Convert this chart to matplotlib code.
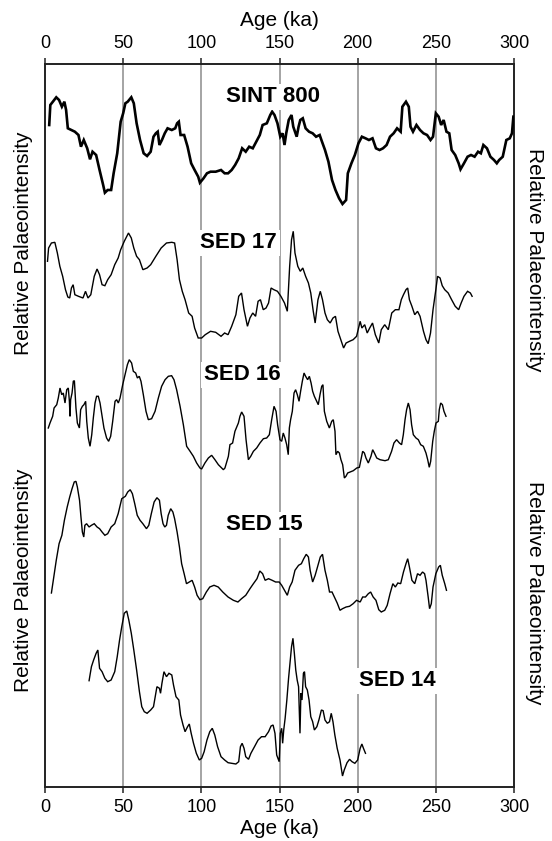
import matplotlib
matplotlib.use("Agg")
import matplotlib.pyplot as plt
import numpy as np

plt.rcParams["font.family"] = ["Liberation Sans", "DejaVu Sans"]

# ---- Relative palaeointensity records (age in ka, intensity in arbitrary units) ----
sint_age = [2.7, 3.4, 5.0, 7.2, 9.0, 10.8, 12.4, 13.5, 14.6, 16.9, 19.1, 21.4, 23.0, 24.8, 27.0,
            28.8, 30.4, 32.7, 34.9, 37.2, 38.3, 40.1, 42.3, 43.9, 46.2, 48.4, 50.0, 51.4, 52.9,
            55.2, 56.8, 58.6, 60.8, 63.1, 65.3, 67.6, 69.4, 70.9, 72.1, 73.2, 74.8, 76.6, 78.4,
            81.1, 83.3, 84.5, 85.6, 86.7, 89.0, 91.2, 93.5, 95.7, 98.0, 99.1, 101.4, 103.6, 105.9,
            109.2, 112.6, 114.9, 117.1, 119.4, 121.6, 123.9, 126.1, 128.4, 130.6, 132.9, 135.1,
            137.4, 139.2, 141.9, 144.1, 145.3, 146.8, 148.7, 150.5, 152.0, 153.2, 154.3, 155.9,
            157.7, 158.8, 159.9, 161.0, 162.2, 163.3, 164.9, 166.7, 168.9, 171.2, 173.4, 175.7,
            176.8, 179.1, 181.3, 183.6, 185.8, 188.1, 190.3, 192.6, 193.7, 196.0, 198.2, 200.5,
            202.7, 205.0, 207.2, 209.5, 211.7, 214.0, 216.2, 218.5, 220.7, 223.0, 225.2, 227.5,
            228.6, 230.9, 232.7, 233.8, 235.4, 237.6, 239.9, 242.1, 244.4, 246.6, 248.2, 250.0,
            251.8, 253.4, 255.0, 256.8, 258.6, 260.1, 262.4, 264.6, 265.8, 268.0, 270.3, 272.5,
            274.8, 277.0, 278.8, 280.4, 282.7, 284.9, 287.2, 289.0, 290.5, 292.8, 295.1, 297.3,
            298.7, 299.6]
sint_val = [7.9, 9.9, 10.23, 10.67, 10.4, 9.73, 10.23, 9.4, 7.57, 7.4, 7.23, 6.9, 5.73, 6.4, 5.57,
            4.47, 5.23, 4.9, 3.4, 1.9, 1.13, 1.4, 1.4, 3.07, 5.07, 8.23, 9.07, 10.07, 10.23,
            10.67, 10.07, 8.07, 6.4, 5.07, 4.8, 5.23, 6.73, 7.07, 7.23, 5.9, 6.4, 7.07, 7.57,
            7.4, 7.57, 8.07, 8.23, 6.9, 6.9, 5.73, 4.07, 3.4, 2.73, 2.13, 2.57, 3.07, 3.23,
            3.23, 3.4, 3.07, 3.07, 3.4, 3.9, 4.57, 5.57, 5.23, 5.73, 5.57, 6.23,
            6.9, 7.9, 8.07, 8.9, 9.23, 8.9, 8.07, 6.73, 7.07, 5.9, 7.07, 8.4,
            8.9, 7.73, 7.23, 6.73, 7.73, 8.4, 8.57, 7.57, 7.23, 7.07, 6.73, 6.9,
            6.4, 5.4, 4.23, 2.4, 1.4, 0.57, 0.0, 0.4, 3.07, 4.07, 4.9, 6.07,
            6.73, 6.57, 6.4, 6.57, 5.57, 5.4, 5.57, 5.9, 6.73, 7.07, 7.57, 7.23,
            9.73, 10.23, 9.73, 7.73, 7.23, 7.9, 7.4, 7.07, 6.9, 6.4, 6.73, 9.07,
            8.73, 7.9, 8.4, 7.23, 7.07, 5.4, 4.9, 4.07, 3.47, 4.07, 4.73, 4.9,
            4.73, 5.23, 5.07, 5.9, 5.57, 4.73, 4.4, 4.07, 4.4, 4.73, 6.4, 6.57,
            7.07, 8.73]

sed17_age = [1.6, 2.3, 4.1, 6.3, 7.9, 9.5, 11.3, 13.1, 14.6, 15.8, 16.9, 18.0, 19.1, 21.4, 24.3,
             25.9, 27.5, 29.3, 31.5, 33.3, 34.9, 36.5, 38.3, 40.1, 42.3, 44.6, 46.8, 48.4, 50.7,
             52.3, 53.4, 55.2, 56.8, 58.6, 60.4, 62.6, 65.3, 67.6, 70.9, 74.3, 77.7, 81.1, 82.9,
             84.5, 86.0, 87.8, 89.6, 91.9, 94.1, 95.7, 98.0, 100.2, 102.5, 105.9, 109.2, 112.6,
             114.9, 117.1, 119.4, 122.1, 123.9, 125.7, 127.3, 128.4, 129.5, 131.1, 132.9, 134.7,
             136.3, 137.8, 139.6, 141.4, 143.0, 144.6, 146.4, 148.7, 150.9, 153.2, 155.0, 156.5,
             157.7, 158.8, 159.9, 161.7, 163.3, 164.9, 166.7, 168.5, 170.0, 171.6, 172.8, 174.6,
             176.1, 177.5, 179.1, 180.6, 182.4, 184.2, 185.8, 187.4, 189.2, 191.0, 192.6, 194.8,
             197.1, 199.3, 201.6, 202.7, 204.5, 206.1, 207.7, 209.5, 211.3, 213.5, 215.1, 217.3,
             219.6, 221.8, 224.1, 226.4, 227.9, 229.3, 230.9, 232.0, 233.1, 234.7, 236.5, 238.3,
             239.9, 242.1, 243.7, 245.1, 246.6, 248.2, 250.0, 251.1, 252.7, 254.1, 255.7, 257.9,
             260.1, 262.4, 264.6, 266.2, 268.0, 270.3, 272.1, 273.2]
sed17_val = [8.67, 10.0, 10.5, 10.57, 9.5, 8.17, 7.17, 5.83, 5.1, 5.0, 6.0, 6.33, 5.33, 5.17, 5.0,
             5.67, 5.0, 5.33, 7.17, 7.9, 7.33, 6.33, 6.23, 6.83, 7.33, 8.33, 9.0, 9.83, 10.67,
             11.17, 11.5, 11.0, 10.0, 9.17, 8.83, 7.83, 8.0, 8.33, 9.17, 10.0, 10.5, 10.57, 10.5,
             8.83, 6.83, 5.67, 4.83, 3.5, 3.17, 2.0, 1.0, 1.0, 1.33, 1.67, 1.57, 1.17,
             1.5, 1.33, 2.17, 3.33, 5.17, 5.5, 3.83, 3.0, 2.17, 3.0, 3.5, 3.17,
             4.67, 4.83, 3.83, 4.0, 4.5, 6.0, 5.83, 5.67, 5.17, 4.5, 3.67, 8.17,
             10.83, 11.67, 9.5, 8.17, 7.67, 8.0, 7.17, 6.5, 5.5, 3.67, 2.5, 4.83,
             5.67, 4.83, 3.5, 2.83, 2.5, 3.0, 3.17, 1.67, 0.83, 0.0, 0.5, 0.67,
             0.83, 1.17, 2.67, 2.0, 2.33, 1.5, 2.0, 2.5, 1.33, 0.5, 1.83, 2.33,
             1.83, 3.5, 3.83, 3.83, 4.83, 5.33, 5.83, 6.0, 4.83, 4.17, 3.33, 3.67,
             3.17, 1.67, 0.83, 0.43, 1.5, 3.83, 5.83, 7.17, 7.0, 6.23, 5.83, 5.5,
             4.83, 4.17, 3.83, 4.5, 5.17, 5.67, 5.5, 5.17]

sed16_age = [2.1, 3.2, 4.9, 5.8, 7.5, 8.5, 9.6, 10.7, 11.7, 12.8, 13.9, 14.9, 15.6, 16.0, 16.4,
             17.3, 18.1, 18.8, 19.8, 20.7, 22.0, 22.8, 23.9, 24.9, 26.0, 26.7, 27.7, 28.8, 29.9,
             30.9, 32.0, 33.0, 34.1, 35.2, 36.2, 37.7, 39.4, 40.7, 42.0, 43.3, 44.8, 45.8, 46.9,
             48.0, 49.7, 51.2, 52.7, 53.9, 55.4, 56.5, 58.0, 59.1, 60.3, 61.4, 62.9, 64.6, 66.1,
             68.2, 70.4, 72.5, 74.6, 76.8, 78.9, 81.0, 82.5, 84.2, 86.4, 88.5, 90.6, 92.8, 94.9,
             97.0, 99.1, 100.2, 102.3, 104.5, 106.6, 108.7, 110.9, 114.1, 115.1, 117.3, 118.3,
             120.0, 121.5, 123.7, 124.7, 125.8, 127.3, 128.6, 130.1, 131.6, 133.3, 135.4, 137.5,
             139.7, 141.8, 143.5, 145.0, 146.5, 147.8, 148.8, 150.3, 151.4, 152.4, 153.5, 154.6,
             155.6, 156.3, 157.1, 158.2, 159.3, 160.3, 161.4, 162.5, 163.5, 164.6, 165.7, 166.7,
             168.0, 169.1, 170.2, 171.2, 172.3, 173.8, 174.8, 175.9, 177.0, 177.8, 178.7, 180.2,
             181.9, 183.4, 184.4, 185.5, 186.1, 187.2, 188.3, 189.3, 190.4, 191.5, 192.5, 193.6,
             195.1, 197.2, 199.4, 201.1, 202.1, 203.2, 204.3, 205.3, 206.8, 208.5, 209.6, 210.7,
             212.2, 214.3, 217.5, 219.6, 221.7, 223.2, 224.9, 226.7, 228.1, 229.2, 230.3, 231.3,
             232.4, 233.5, 234.5, 235.6, 237.3, 238.8, 240.3, 242.0, 243.7, 244.8, 245.8, 246.7,
             248.0, 249.0, 250.1, 251.6, 252.2, 253.1, 254.2, 255.2, 256.5]
sed16_val = [5.0, 5.5, 6.17, 7.0, 7.33, 8.0, 9.0, 8.33, 8.5, 7.5, 8.83, 9.0, 7.67, 6.17, 7.83,
             8.5, 9.67, 9.73, 7.0, 5.5, 5.0, 6.83, 7.17, 7.33, 7.67, 5.67, 4.0, 3.17, 4.33,
             6.0, 7.5, 8.17, 8.17, 7.5, 6.5, 5.0, 4.0, 3.67, 4.17, 5.67, 7.67, 7.83, 7.5,
             8.0, 9.33, 10.33, 11.33, 11.83, 11.5, 10.67, 10.5, 10.0, 10.17, 9.67, 8.33, 6.67, 5.83,
             5.93, 6.67, 8.0, 9.17, 9.83, 10.17, 10.23, 9.83, 8.83, 7.17, 5.33, 3.17, 2.67, 2.17,
             1.5, 1.0, 0.9, 1.5, 2.0, 2.27, 1.83, 1.33, 0.83, 1.0, 2.17, 3.33,
             3.5, 4.67, 5.5, 6.17, 6.6, 6.17, 3.83, 1.83, 2.17, 2.67, 3.0, 3.5,
             3.93, 4.0, 4.33, 5.83, 7.17, 6.67, 5.33, 3.83, 3.67, 4.5, 4.0, 3.33,
             2.33, 5.0, 5.83, 6.67, 8.5, 8.83, 8.33, 7.67, 8.67, 9.67, 10.5, 10.17,
             9.83, 10.17, 9.5, 8.67, 8.17, 7.67, 7.33, 8.33, 9.17, 9.33, 6.67, 5.67,
             5.0, 5.67, 5.83, 4.67, 2.33, 2.67, 2.5, 1.83, 1.33, 0.0, 0.17, 0.5,
             0.6, 0.73, 1.0, 1.07, 1.83, 2.67, 2.5, 2.0, 1.5, 2.17, 2.83, 2.5,
             2.0, 1.83, 1.73, 1.83, 2.67, 3.5, 3.83, 3.5, 3.33, 4.33, 5.83, 6.83,
             7.5, 6.83, 5.33, 4.33, 4.0, 3.83, 3.33, 3.17, 2.5, 1.83, 1.07, 1.67,
             3.67, 4.67, 5.5, 5.67, 6.83, 7.5, 7.33, 6.67, 6.17]

sed15_age = [4.1, 5.6, 7.2, 9.0, 10.8, 12.4, 14.2, 15.8, 17.3, 18.7, 19.8, 20.7, 22.1, 23.0, 23.9,
             24.8, 25.5, 26.6, 28.2, 29.7, 31.5, 33.3, 34.9, 36.5, 38.3, 40.1, 42.3, 44.6, 46.8,
             49.1, 51.4, 52.9, 54.5, 55.9, 57.4, 59.0, 60.8, 62.6, 64.9, 66.4, 68.0, 69.8, 71.6,
             73.2, 74.3, 75.5, 76.6, 77.7, 78.8, 80.4, 81.8, 82.9, 84.5, 86.0, 87.4, 89.0, 90.5,
             92.3, 94.1, 95.7, 97.3, 99.1, 100.9, 103.2, 105.4, 108.1, 110.8, 113.7, 117.1, 120.5,
             123.4, 125.7, 128.4, 131.1, 133.3, 135.6, 137.4, 139.2, 140.8, 143.0, 145.3, 147.5,
             149.8, 151.4, 153.2, 155.0, 156.5, 158.1, 159.9, 162.2, 164.0, 165.5, 167.1, 168.5,
             169.6, 171.2, 172.8, 174.6, 176.1, 177.5, 179.1, 180.6, 182.0, 183.6, 185.1, 186.9,
             188.7, 190.3, 192.6, 194.8, 197.1, 199.3, 201.6, 203.2, 205.0, 206.8, 208.3, 209.9,
             211.7, 213.5, 215.1, 217.3, 218.9, 220.7, 222.5, 224.1, 225.7, 227.5, 229.3, 230.9,
             232.0, 233.1, 234.7, 236.5, 238.3, 239.9, 241.5, 242.8, 243.7, 245.1, 246.0, 247.1,
             248.2, 250.0, 251.8, 252.9, 254.1, 255.7, 256.8]
sed15_val = [1.9, 3.5, 5.17, 6.83, 7.67, 9.17, 10.5, 11.5, 12.33, 13.0, 13.07, 12.5, 11.17, 9.5, 8.0,
             7.5, 8.67, 8.83, 8.5, 8.67, 8.83, 8.5, 8.33, 8.0, 7.67, 7.83, 8.5, 8.83, 9.83,
             11.33, 11.57, 12.0, 12.23, 11.83, 10.83, 9.67, 9.17, 8.83, 8.33, 8.67, 9.83, 11.0, 11.43,
             11.17, 9.83, 8.83, 8.5, 8.67, 9.67, 10.33, 10.0, 9.33, 8.0, 6.5, 4.83, 3.83, 2.83,
             3.0, 3.17, 2.5, 1.67, 1.23, 1.33, 2.0, 2.5, 2.67, 2.5, 2.0, 1.5, 1.17,
             1.0, 1.33, 1.67, 2.33, 2.83, 3.33, 4.1, 3.83, 3.17, 3.33, 3.17, 3.0,
             3.0, 2.67, 2.17, 1.67, 2.5, 3.0, 4.17, 4.67, 4.83, 5.33, 5.77, 5.5,
             4.17, 3.0, 3.67, 4.67, 5.5, 5.77, 4.17, 3.17, 2.0, 2.0, 1.5, 0.9,
             0.17, 0.33, 0.5, 0.57, 0.83, 1.17, 1.0, 1.5, 1.5, 1.83, 2.0, 1.5,
             1.17, 0.23, 0.0, 0.17, 0.67, 1.83, 2.83, 2.5, 2.9, 2.83, 4.0, 4.83,
             5.33, 4.5, 3.17, 2.83, 3.83, 3.67, 4.0, 3.83, 3.17, 1.5, 0.33, 0.83,
             2.5, 3.83, 4.5, 4.67, 3.67, 2.83, 2.17]

sed14_age = [28.2, 28.8, 29.7, 31.1, 32.7, 33.8, 34.9, 36.5, 38.3, 40.1, 42.3, 44.6, 46.2, 47.7,
             49.1, 50.7, 52.3, 53.6, 55.2, 56.8, 58.6, 60.4, 61.9, 63.5, 65.3, 67.6, 69.4, 70.5,
             71.6, 73.2, 73.9, 74.8, 76.1, 77.7, 79.3, 81.1, 82.2, 83.8, 85.6, 86.7, 88.3, 89.6,
             91.2, 92.3, 93.5, 95.0, 96.8, 98.7, 100.2, 101.8, 103.6, 105.4, 107.0, 108.6, 110.4,
             112.6, 114.9, 117.1, 119.4, 122.1, 123.9, 125.0, 126.1, 127.3, 128.4, 130.2, 131.7,
             134.0, 136.3, 138.5, 140.8, 143.0, 144.6, 145.9, 147.1, 148.2, 149.8, 150.5, 151.4,
             152.0, 152.7, 153.6, 154.7, 155.8, 156.7, 157.7, 158.6, 159.5, 160.4, 161.3, 162.2,
             163.1, 163.7, 164.4, 165.3, 166.0, 166.7, 167.8, 168.9, 170.0, 171.2, 172.3, 173.9,
             175.2, 176.8, 177.9, 179.1, 180.6, 182.0, 183.1, 184.2, 185.4, 186.9, 188.7, 190.3,
             191.4, 193.2, 194.8, 196.4, 198.2, 200.0, 201.6, 202.7, 203.7, 205.0]
sed14_val = [9.53, 10.1, 10.93, 11.6, 12.27, 12.6, 10.77, 10.43, 9.77, 9.43, 9.6, 10.43, 11.93, 13.6,
             14.93, 16.27, 16.5, 15.6, 14.27, 12.6, 10.6, 8.43, 6.93, 6.43, 6.27, 6.6, 6.93, 7.93,
             8.93, 8.77, 8.27, 9.27, 10.43, 9.93, 10.27, 10.1, 9.1, 7.93, 7.6, 6.1, 5.1, 4.43,
             4.93, 5.2, 4.27, 3.27, 2.27, 1.6, 1.77, 2.43, 3.6, 4.43, 4.77, 4.1, 2.93,
             1.93, 1.6, 1.33, 1.27, 1.2, 1.43, 2.93, 3.27, 2.77, 1.93, 1.67, 2.27,
             2.93, 3.6, 3.93, 3.93, 4.43, 5.0, 5.1, 4.27, 2.1, 1.43, 4.27, 4.77,
             3.27, 4.6, 5.77, 7.6, 9.77, 11.27, 12.93, 13.77, 12.27, 10.6, 9.6, 8.93,
             4.27, 8.27, 7.6, 10.27, 10.43, 8.93, 8.6, 7.6, 5.93, 5.43, 4.6, 4.93,
             5.6, 6.6, 6.53, 5.6, 5.27, 5.43, 6.27, 5.43, 4.1, 2.77, 1.6, 0.0,
             0.6, 1.33, 1.67, 1.43, 1.27, 1.6, 2.77, 3.2, 2.77, 2.27]

record_names = ["SINT 800", "SED 17", "SED 16", "SED 15", "SED 14"]
record_offsets = [58.3, 43.9, 30.9, 17.5, 1.1]
records = [(sint_age, sint_val), (sed17_age, sed17_val), (sed16_age, sed16_val),
           (sed15_age, sed15_val), (sed14_age, sed14_val)]

age_ticks = [0, 50, 100, 150, 200, 250, 300]

# ---- figure ----
fig = plt.figure(figsize=(5.52, 8.41), dpi=100)
ax = fig.add_axes([45 / 552, 54 / 841, 469 / 552, 723 / 841])

ax.set_xlim(0, 300)
ax.set_ylim(0, 72.3)

for g in age_ticks[1:-1]:
    ax.axvline(g, color="#8c8c8c", lw=1.1, zorder=1)

line_widths = [1.9, 1.0, 1.0, 1.0, 1.0]
for (age, val), off, lw in zip(records, record_offsets, line_widths):
    ax.plot(age, np.asarray(val) + off, color="black", lw=lw, zorder=3,
            solid_joinstyle="miter")

# record names
name_pos = [(145.7, 69.0), (123.9, 54.4), (126.0, 41.2), (140.3, 26.2), (225.2, 10.6)]
for name, (x, y) in zip(record_names, name_pos):
    ax.text(x, y, name, ha="center", va="center", fontsize=16, fontweight="bold",
            zorder=4, bbox=dict(facecolor="white", edgecolor="none", pad=2))

# axes styling
for side in ax.spines.values():
    side.set_linewidth(1.4)
    side.set_color("#222222")
ax.set_yticks([])
ax.set_xticks(age_ticks)
ax.tick_params(axis="x", direction="out", length=4, width=1.1, labelsize=13,
               top=True, bottom=True, labeltop=True, labelbottom=True, pad=5,
               color="#222222")
ax.set_xlabel("Age (ka)", fontsize=15, labelpad=2)
# matching age title above the top tick labels
fig.text(279.5 / 552, 1 - 20 / 841, "Age (ka)", ha="center", va="center", fontsize=15)

# intensity axis titles, two on each side
ylab = "Relative Palaeointensity"
for yc in (0.752, 0.286):
    ax.text(-0.045, yc, ylab, rotation=90, ha="center", va="center",
            fontsize=15, transform=ax.transAxes)
for yc in (0.729, 0.268):
    ax.text(1.043, yc, ylab, rotation=270, ha="center", va="center",
            fontsize=15, transform=ax.transAxes)

fig.savefig("out.png", dpi=100)
